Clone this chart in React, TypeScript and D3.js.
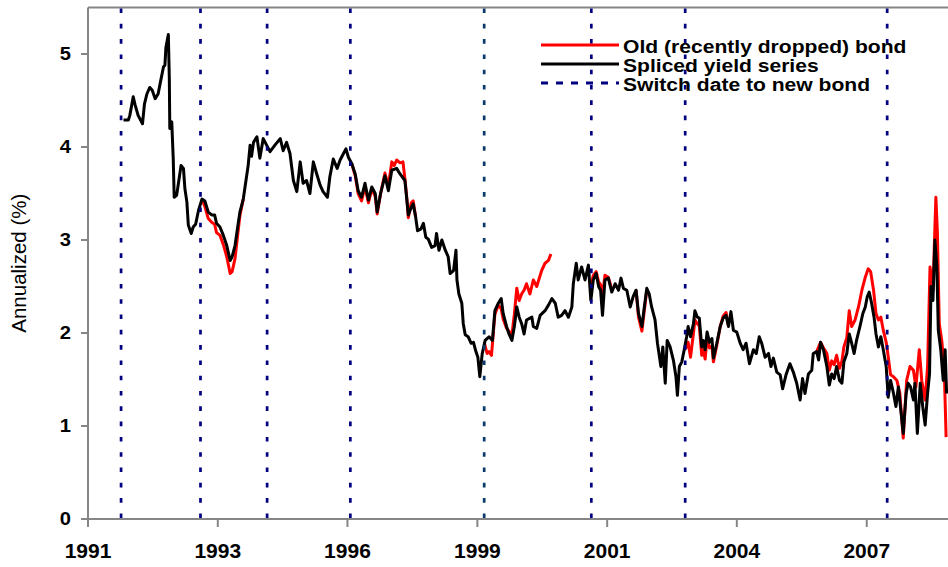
import React from "react";
import * as d3 from "d3";

const spliced: [number, number][] = [
  [1991.73, 4.29], [1991.83, 4.29], [1991.86, 4.34], [1991.93, 4.54], [1991.97, 4.45], [1992.03, 4.34],
  [1992.12, 4.25], [1992.16, 4.46], [1992.21, 4.57], [1992.27, 4.64], [1992.32, 4.61], [1992.38, 4.52],
  [1992.44, 4.57], [1992.5, 4.73], [1992.55, 4.86], [1992.58, 4.88], [1992.6, 5.07], [1992.65, 5.21],
  [1992.67, 4.74], [1992.68, 4.2], [1992.72, 4.27], [1992.75, 3.88], [1992.77, 3.46], [1992.82, 3.48],
  [1992.86, 3.62], [1992.91, 3.8], [1992.96, 3.77], [1992.99, 3.55], [1993.03, 3.41], [1993.06, 3.16],
  [1993.12, 3.07], [1993.16, 3.14], [1993.21, 3.17], [1993.27, 3.32], [1993.34, 3.44], [1993.4, 3.42],
  [1993.47, 3.3], [1993.54, 3.27], [1993.6, 3.27], [1993.64, 3.18], [1993.71, 3.14], [1993.78, 3.05],
  [1993.85, 2.94], [1993.92, 2.78], [1993.96, 2.82], [1994.02, 2.94], [1994.08, 3.16], [1994.12, 3.3],
  [1994.19, 3.44], [1994.24, 3.62], [1994.29, 3.8], [1994.33, 4.02], [1994.36, 3.9], [1994.4, 4.05],
  [1994.47, 4.11], [1994.53, 3.88], [1994.6, 4.09], [1994.67, 4.02], [1994.74, 3.95], [1994.84, 4.02],
  [1994.95, 4.09], [1995.01, 3.96], [1995.08, 4.05], [1995.15, 3.93], [1995.22, 3.64], [1995.29, 3.52],
  [1995.36, 3.84], [1995.42, 3.61], [1995.49, 3.64], [1995.56, 3.5], [1995.63, 3.84], [1995.7, 3.71],
  [1995.77, 3.59], [1995.83, 3.52], [1995.92, 3.46], [1995.97, 3.68], [1996.04, 3.87], [1996.12, 3.77],
  [1996.18, 3.86], [1996.25, 3.93], [1996.3, 3.98], [1996.35, 3.89], [1996.42, 3.82], [1996.49, 3.71],
  [1996.55, 3.53], [1996.62, 3.46], [1996.69, 3.61], [1996.76, 3.43], [1996.83, 3.57], [1996.9, 3.5],
  [1996.94, 3.3], [1997.01, 3.5], [1997.1, 3.69], [1997.17, 3.53], [1997.24, 3.75], [1997.34, 3.77],
  [1997.41, 3.71], [1997.51, 3.64], [1997.55, 3.43], [1997.58, 3.27], [1997.64, 3.35], [1997.68, 3.39],
  [1997.73, 3.25], [1997.77, 3.1], [1997.84, 3.12], [1997.89, 3.18], [1997.94, 3.03], [1997.99, 3.01],
  [1998.06, 2.92], [1998.13, 2.94], [1998.16, 3.07], [1998.21, 2.89], [1998.27, 3.0], [1998.34, 2.89],
  [1998.4, 2.82], [1998.44, 2.64], [1998.51, 2.67], [1998.56, 2.89], [1998.58, 2.57], [1998.62, 2.42],
  [1998.68, 2.32], [1998.71, 2.1], [1998.75, 1.98], [1998.81, 1.96], [1998.87, 1.89], [1998.92, 1.9],
  [1998.97, 1.8], [1999.01, 1.74], [1999.05, 1.53], [1999.1, 1.78], [1999.16, 1.92], [1999.24, 1.96],
  [1999.31, 1.92], [1999.36, 2.24], [1999.43, 2.32], [1999.49, 2.37], [1999.53, 2.21], [1999.6, 2.07],
  [1999.65, 1.99], [1999.71, 1.92], [1999.76, 2.07], [1999.81, 2.28], [1999.86, 2.17], [1999.91, 2.1],
  [1999.96, 1.99], [2000.01, 2.14], [2000.12, 2.17], [2000.15, 2.07], [2000.22, 2.05], [2000.29, 2.19],
  [2000.39, 2.24], [2000.46, 2.3], [2000.53, 2.37], [2000.6, 2.32], [2000.66, 2.17], [2000.73, 2.19],
  [2000.8, 2.24], [2000.87, 2.17], [2000.94, 2.28], [2000.97, 2.53], [2001.03, 2.75], [2001.07, 2.57],
  [2001.14, 2.71], [2001.21, 2.57], [2001.28, 2.73], [2001.33, 2.35], [2001.38, 2.57], [2001.44, 2.64],
  [2001.49, 2.5], [2001.53, 2.46], [2001.57, 2.19], [2001.62, 2.57], [2001.69, 2.59], [2001.76, 2.44],
  [2001.83, 2.53], [2001.9, 2.46], [2001.95, 2.59], [2002.0, 2.48], [2002.07, 2.46], [2002.14, 2.28],
  [2002.2, 2.39], [2002.26, 2.46], [2002.31, 2.21], [2002.38, 2.07], [2002.42, 2.24], [2002.48, 2.48],
  [2002.53, 2.42], [2002.58, 2.28], [2002.65, 2.14], [2002.7, 1.89], [2002.77, 1.64], [2002.81, 1.85],
  [2002.86, 1.46], [2002.9, 1.92], [2002.96, 1.85], [2003.03, 1.7], [2003.08, 1.53], [2003.11, 1.33],
  [2003.15, 1.64], [2003.2, 1.69], [2003.25, 1.82], [2003.3, 1.96], [2003.33, 2.07], [2003.38, 1.96],
  [2003.44, 2.1], [2003.47, 2.24], [2003.52, 2.17], [2003.56, 2.16], [2003.61, 1.85], [2003.64, 1.92],
  [2003.68, 1.82], [2003.72, 2.01], [2003.77, 1.9], [2003.82, 1.94], [2003.85, 1.73], [2003.92, 1.89],
  [2003.99, 2.07], [2004.05, 2.16], [2004.11, 2.19], [2004.16, 2.07], [2004.21, 2.23], [2004.26, 2.03],
  [2004.33, 2.01], [2004.4, 1.89], [2004.46, 1.82], [2004.52, 1.89], [2004.59, 1.67], [2004.67, 1.82],
  [2004.73, 1.78], [2004.79, 1.96], [2004.84, 1.89], [2004.91, 1.74], [2004.98, 1.78], [2005.03, 1.64],
  [2005.08, 1.73], [2005.15, 1.58], [2005.22, 1.55], [2005.27, 1.4], [2005.34, 1.55], [2005.42, 1.67],
  [2005.49, 1.58], [2005.56, 1.46], [2005.63, 1.28], [2005.68, 1.51], [2005.73, 1.35], [2005.8, 1.56],
  [2005.87, 1.6], [2005.9, 1.78], [2005.97, 1.8], [2006.01, 1.71], [2006.05, 1.9], [2006.11, 1.82],
  [2006.18, 1.64], [2006.23, 1.44], [2006.28, 1.56], [2006.33, 1.51], [2006.38, 1.64], [2006.44, 1.49],
  [2006.49, 1.46], [2006.53, 1.69], [2006.59, 1.78], [2006.64, 1.99], [2006.69, 1.89], [2006.74, 1.78],
  [2006.79, 1.92], [2006.86, 2.07], [2006.92, 2.21], [2006.97, 2.28], [2007.01, 2.39], [2007.05, 2.44],
  [2007.1, 2.32], [2007.15, 2.17], [2007.19, 1.99], [2007.24, 1.85], [2007.29, 1.96], [2007.34, 1.82],
  [2007.4, 1.64], [2007.44, 1.31], [2007.49, 1.49], [2007.55, 1.35], [2007.6, 1.21], [2007.65, 1.42],
  [2007.7, 1.17], [2007.75, 0.92], [2007.81, 1.35], [2007.85, 1.46], [2007.9, 1.42], [2007.96, 1.28],
  [2007.99, 1.46], [2008.04, 0.92], [2008.1, 1.46], [2008.15, 1.21], [2008.2, 1.01], [2008.25, 1.35],
  [2008.29, 1.56], [2008.32, 2.5], [2008.36, 2.35], [2008.4, 3.0], [2008.44, 2.71], [2008.47, 2.03],
  [2008.52, 1.82], [2008.57, 1.49], [2008.61, 1.82], [2008.64, 1.35],
];

// old bond yield, only where it parts from the spliced series (null = gap)
const oldBond: ([number, number] | null)[] = [
  [1993.34, 3.44], [1993.4, 3.36], [1993.47, 3.23], [1993.54, 3.19], [1993.6, 3.17], [1993.64, 3.08],
  [1993.71, 3.05], [1993.78, 2.95], [1993.85, 2.82], [1993.92, 2.64], [1993.96, 2.66], [1994.02, 2.8],
  [1994.08, 3.08], [1994.12, 3.26], [1994.19, 3.44], null,
  [1996.42, 3.82], [1996.49, 3.69], [1996.55, 3.5], [1996.62, 3.42], [1996.69, 3.57], [1996.76, 3.4],
  [1996.83, 3.55], [1996.9, 3.47], [1996.94, 3.28], [1997.01, 3.5], [1997.1, 3.72], [1997.17, 3.58],
  [1997.24, 3.84], [1997.29, 3.8], [1997.34, 3.86], [1997.41, 3.83], [1997.47, 3.84], [1997.51, 3.66],
  [1997.55, 3.45], [1997.58, 3.24], [1997.64, 3.4], [1997.68, 3.42], [1997.73, 3.25], null,
  [1999.14, 1.9], [1999.2, 1.78], [1999.24, 1.8], [1999.29, 1.76], [1999.32, 1.95], [1999.36, 2.2],
  [1999.43, 2.3], [1999.49, 2.26], [1999.53, 2.15], [1999.6, 2.05], [1999.65, 2.02], [1999.71, 1.98],
  [1999.76, 2.2], [1999.81, 2.48], [1999.86, 2.35], [1999.91, 2.42], [1999.96, 2.46], [2000.01, 2.53],
  [2000.08, 2.42], [2000.15, 2.57], [2000.22, 2.5], [2000.29, 2.62], [2000.32, 2.67], [2000.39, 2.75],
  [2000.46, 2.78], [2000.51, 2.85], null,
  [2001.33, 2.5], [2001.38, 2.62], [2001.44, 2.66], [2001.49, 2.55], [2001.53, 2.52], [2001.57, 2.4],
  [2001.62, 2.62], [2001.69, 2.6], [2001.76, 2.47], null,
  [2002.26, 2.46], [2002.31, 2.17], [2002.38, 2.02], [2002.42, 2.2], [2002.48, 2.46], null,
  [2003.25, 1.82], [2003.3, 1.85], [2003.33, 1.9], [2003.38, 1.74], [2003.44, 2.0], [2003.47, 2.14],
  [2003.52, 2.1], [2003.56, 2.08], [2003.61, 1.76], [2003.64, 1.82], [2003.68, 1.72], [2003.72, 1.95],
  [2003.77, 1.84], [2003.82, 1.86], [2003.85, 1.69], [2003.92, 1.87], [2003.99, 2.07], [2004.05, 2.18],
  [2004.11, 2.22], [2004.16, 2.07], null,
  [2005.97, 1.8], [2006.05, 1.9], [2006.11, 1.84], [2006.18, 1.78], [2006.23, 1.6], [2006.28, 1.7],
  [2006.33, 1.66], [2006.38, 1.76], [2006.44, 1.62], [2006.49, 1.7], [2006.53, 1.85], [2006.59, 1.95],
  [2006.64, 2.24], [2006.69, 2.07], [2006.76, 2.14], [2006.83, 2.28], [2006.9, 2.46], [2006.97, 2.6],
  [2007.03, 2.69], [2007.08, 2.66], [2007.14, 2.46], [2007.19, 2.21], [2007.24, 2.14], [2007.29, 2.17],
  [2007.34, 2.03], [2007.4, 1.9], [2007.44, 1.75], [2007.49, 1.55], [2007.55, 1.53], [2007.62, 1.49],
  [2007.68, 1.35], [2007.75, 0.87], [2007.82, 1.49], [2007.89, 1.64], [2007.96, 1.6], [2008.01, 1.42],
  [2008.08, 1.82], [2008.13, 1.49], [2008.2, 1.28], [2008.25, 1.64], [2008.3, 2.71], [2008.36, 2.46],
  [2008.42, 3.46], [2008.45, 3.1], [2008.49, 2.1], [2008.54, 1.92], [2008.59, 1.64], [2008.63, 0.88],
];

const switchDates = [1991.68, 1993.31, 1994.68, 1996.39, 1999.14, 2001.34, 2003.27, 2007.42];
const xTickDates = ["1991-01-01", "1993-09-01", "1996-05-01", "1999-01-01", "2001-09-01", "2004-05-01", "2007-01-01"];
const yTicks = [0, 1, 2, 3, 4, 5];
const legendLabels = ["Old (recently dropped) bond", "Spliced yield series", "Switch date to new bond"];

const FONT = "'Liberation Sans', Arial, Helvetica, sans-serif";
const AXIS = "#868686";
const NAVY = "#000080";

function yearToDate(t: number) {
  const y = Math.floor(t);
  const a = new Date(y, 0, 1).getTime();
  const b = new Date(y + 1, 0, 1).getTime();
  return new Date(a + (t - y) * (b - a));
}

export default function App() {
  const left = 88;
  const top = 7.5;
  const bottom = 519;

  const x = d3
    .scaleTime()
    .domain([new Date(1991, 0, 1), new Date(2008, 0, 1)])
    .range([left, left + 17 * 48.67]);
  const y = d3.scaleLinear().domain([0, 5.5]).range([bottom, top]);

  const line = d3
    .line<[number, number] | null>()
    .defined((d) => d !== null)
    .x((d) => x(yearToDate(d![0])))
    .y((d) => y(d![1]));

  const legendY = [45, 64, 83];

  return (
    <svg width={948} height={567} style={{ position: "absolute", left: 0, top: 0, background: "#fff" }}>
      {/* frame */}
      <line x1={left} x2={948} y1={top} y2={top} stroke={AXIS} strokeWidth={2} />
      <line x1={left} x2={left} y1={top} y2={bottom} stroke={AXIS} strokeWidth={2} />
      <line x1={left - 1} x2={948} y1={bottom} y2={bottom} stroke={AXIS} strokeWidth={2} />

      {yTicks.map((v) => (
        <g key={v}>
          <line x1={left - 7} x2={left} y1={y(v)} y2={y(v)} stroke={AXIS} strokeWidth={2} />
          <text
            transform={`translate(71,${y(v) + 6.4}) scale(1.12,1)`}
            textAnchor="end"
            fontFamily={FONT}
            fontWeight="bold"
            fontSize={18}
          >
            {v}
          </text>
        </g>
      ))}

      {xTickDates.map((s) => {
        const d = new Date(s + "T00:00:00");
        const px = x(d);
        return (
          <g key={s}>
            <line x1={px} x2={px} y1={bottom} y2={bottom + 8} stroke={AXIS} strokeWidth={2} />
            <text
              transform={`translate(${px},557.5) scale(1.05,1)`}
              textAnchor="middle"
              fontFamily={FONT}
              fontWeight="bold"
              fontSize={20}
            >
              {d3.timeFormat("%Y")(d)}
            </text>
          </g>
        );
      })}

      <text
        transform={`translate(26,${(top + bottom) / 2}) rotate(-90)`}
        textAnchor="middle"
        fontFamily={FONT}
        fontSize={20.5}
      >
        Annualized (%)
      </text>

      <path d={line(oldBond) ?? ""} fill="none" stroke="#ff0000" strokeWidth={3} strokeLinejoin="round" />
      <path d={line(spliced) ?? ""} fill="none" stroke="#000" strokeWidth={3} strokeLinejoin="round" />

      {switchDates.map((t, i) => {
        const px = x(yearToDate(t));
        return (
          <line
            key={t}
            x1={px}
            x2={px}
            y1={top + 1}
            y2={bottom}
            stroke={i === 4 ? "#0a3a6a" : NAVY}
            strokeWidth={2.7}
            strokeDasharray="4.6 10.7"
          />
        );
      })}

      {/* legend */}
      <line x1={541} x2={619} y1={legendY[0]} y2={legendY[0]} stroke="#ff0000" strokeWidth={3} />
      <line x1={541} x2={619} y1={legendY[1]} y2={legendY[1]} stroke="#000" strokeWidth={3} />
      <line x1={541} x2={619} y1={legendY[2]} y2={legendY[2]} stroke={NAVY} strokeWidth={3} strokeDasharray="7 8" />
      {legendLabels.map((s, i) => (
        <text
          key={s}
          transform={`translate(623,${legendY[i] + 7.5}) scale(1.11,1)`}
          fontFamily={FONT}
          fontWeight="bold"
          fontSize={19}
        >
          {s}
        </text>
      ))}
    </svg>
  );
}
